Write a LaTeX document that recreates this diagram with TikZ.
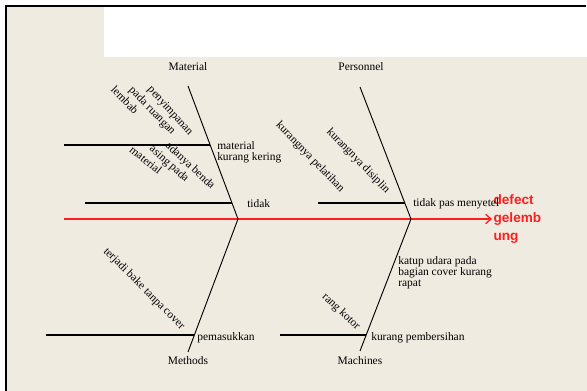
\documentclass[tikz,border=0pt]{standalone}
\usepackage{fontspec}
\setmainfont{Liberation Serif}
\newfontfamily\headfont{Liberation Sans}
\usetikzlibrary{arrows.meta}
\definecolor{paper}{RGB}{239,235,225}
\definecolor{effectred}{RGB}{255,30,30}

\begin{document}
\begin{tikzpicture}[x=0.75pt,y=-0.75pt,
  bone/.style={line width=0.7pt},
  branch/.style={line width=0.9pt},
  spine/.style={draw=effectred,line width=1pt,-{Straight Barb[length=4pt,width=7pt]}},
  cat node/.style={font=\fontsize{8.6}{9}\selectfont,inner sep=0pt},
  cause node/.style={font=\fontsize{8.6}{8.3}\selectfont,inner sep=0pt,anchor=west,align=left},
  slant node/.style={font=\fontsize{8.6}{9}\selectfont,inner sep=0pt,rotate=-#1},
  slant node/.default=46]
  \useasboundingbox (0,0) rectangle (587,391);
  % sheet
  \fill[paper] (6,6) rectangle (587,391);
  \fill[white] (104,7) rectangle (587,57);
  \draw[line width=1.4pt] (6,391) -- (6,6) -- (586,6);

  % spine and effect
  \coordinate (tail) at (64,219);
  \coordinate (j1) at (238,219);
  \coordinate (j2) at (411,219);
  \node[font=\headfont\bfseries\fontsize{10.2}{13.5}\selectfont,text=effectred,
        align=left,anchor=west,inner sep=1pt] (effect) at (492,219) {defect\\gelemb\\ung};
  \draw[spine] (tail) -- (effect.west);

  % categories
  \node[cat node] (material) at (188,67) {Material};
  \node[cat node] (personnel) at (361,67) {Personnel};
  \node[cat node] (methods) at (188,361) {Methods};
  \node[cat node] (machines) at (360,361) {Machines};

  \coordinate (matTop) at (188,86);
  \coordinate (perTop) at (360,87);
  \coordinate (metBot) at (188,352);
  \coordinate (macBot) at (360,351);
  \draw[bone] (matTop) -- (j1);
  \draw[bone] (perTop) -- (j2);
  \draw[bone] (metBot) -- (j1);
  \draw[bone] (macBot) -- (j2);

  % material
  \coordinate (m1) at (64,145);  \coordinate (m1e) at (210,145);
  \coordinate (m2) at (85,203);  \coordinate (m2e) at (232,203);
  \draw[branch] (m1) -- (m1e);
  \draw[branch] (m2) -- (m2e);
  \node[cause node] (kering) at (217,152) {material\\kurang kering};
  \node[cause node] (tidak) at (247,204) {tidak};
  \node[slant node=48] (simpan1) at (170,111) {penyimpanan};
  \node[slant node=46] (simpan2) at (152,111) {pada ruangan};
  \node[slant node=46] (simpan3) at (125,100) {lembab};
  \node[slant node=43] (benda1) at (190,166) {adanya benda};
  \node[slant node=42] (benda2) at (169,164) {asing pada};
  \node[slant node=39] (benda3) at (146,160) {material};

  % personnel
  \coordinate (p1) at (318,203); \coordinate (p1e) at (405,203);
  \draw[branch] (p1) -- (p1e);
  \node[cause node] (setel) at (413,204) {tidak pas menyetel};
  \node[slant node] (latih) at (310,157) {kurangnya pelatihan};
  \node[slant node] (disiplin) at (358,161) {kurangnya disiplin};

  % methods
  \coordinate (t1) at (46,335); \coordinate (t1e) at (194,335);
  \draw[branch] (t1) -- (t1e);
  \node[cause node] (masuk) at (197,338) {pemasukkan};
  \node[slant node=45] (bake) at (144,289) {terjadi bake tanpa cover};

  % machines
  \coordinate (k1) at (280,335); \coordinate (k1e) at (366,335);
  \draw[branch] (k1) -- (k1e);
  \node[cause node] (bersih) at (371,338) {kurang pembersihan};
  \node[cause node] (katup) at (398,273) {katup udara pada\\bagian cover kurang\\rapat};
  \node[slant node=43] (kotor) at (341,312) {rang kotor};
\end{tikzpicture}
\end{document}
